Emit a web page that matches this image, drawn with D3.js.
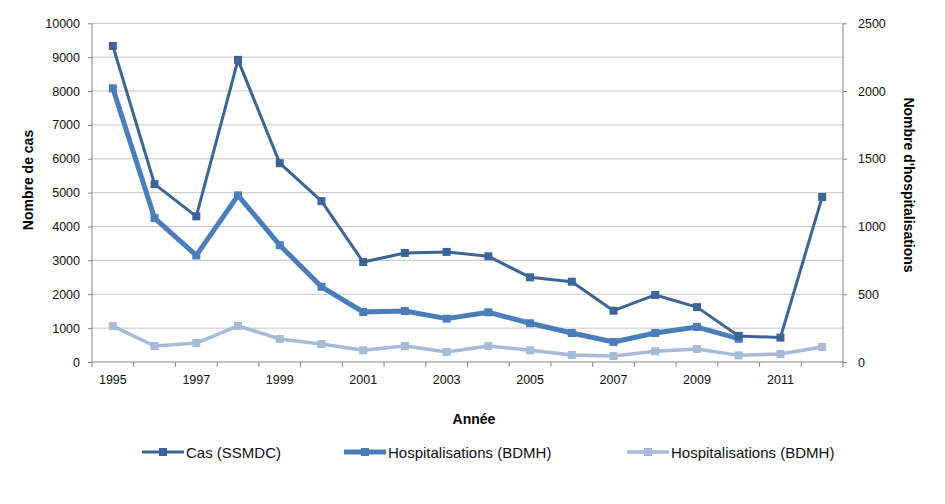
<!DOCTYPE html>
<html>
<head>
<meta charset="utf-8">
<script src="https://cdn.jsdelivr.net/npm/d3@7"></script>
<style>
  body { margin: 0; background: #fff; }
  svg { display: block; }
</style>
</head>
<body>
<div id="vis"></div>
<script>
// data
let years = [1995, 1996, 1997, 1998, 1999, 2000, 2001, 2002, 2003, 2004, 2005, 2006, 2007, 2008, 2009, 2010, 2011, 2012];
let cas = [9330, 5250, 4300, 8920, 5870, 4750, 2950, 3220, 3250, 3120, 2500, 2370, 1515, 1980, 1620, 770, 720, 4870];
let hospThick = [2020, 1062, 787, 1230, 862, 555, 369, 376, 320, 367, 286, 214, 148, 214, 258, 172, null, null];
let hospLight = [265, 118, 140, 266, 170, 133, 86, 118, 74, 118, 86, 52, 44, 79, 96, 49, 59, 111];
let leftTicks = [0, 1000, 2000, 3000, 4000, 5000, 6000, 7000, 8000, 9000, 10000];
let rightTicks = [0, 500, 1000, 1500, 2000, 2500];

let W = 945, H = 504;
let plot = { left: 92, right: 843, top: 23.3, bottom: 362 };

let svg = d3.select('#vis').append('svg')
  .attr('width', W).attr('height', H)
  .style('font-family', '"DejaVu Sans", Verdana, sans-serif');

let x = d3.scaleBand().domain(years).range([plot.left, plot.right]);
let yL = d3.scaleLinear().domain([0, 10000]).range([plot.bottom, plot.top]);
let yR = d3.scaleLinear().domain([0, 2500]).range([plot.bottom, plot.top]);
let cx = d => x(d) + x.bandwidth() / 2;

// gridlines
svg.append('g').selectAll('line').data(leftTicks.slice(1)).join('line')
  .attr('x1', plot.left).attr('x2', plot.right)
  .attr('y1', d => yL(d)).attr('y2', d => yL(d))
  .attr('stroke', '#c6c6c6').attr('stroke-width', 1);

// left axis
let gl = svg.append('g').attr('transform', `translate(${plot.left},0)`)
  .call(d3.axisLeft(yL).tickValues(leftTicks).tickSize(4).tickPadding(8).tickFormat(d3.format('d')));
gl.select('.domain').attr('stroke', '#868686').attr('d', `M0,${plot.top}V${plot.bottom}`);
gl.selectAll('.tick line').attr('stroke', '#868686');
gl.selectAll('.tick text').attr('font-size', 12.5).attr('fill', '#111');

// right axis
let gr = svg.append('g').attr('transform', `translate(${plot.right},0)`)
  .call(d3.axisRight(yR).tickValues(rightTicks).tickSize(4).tickPadding(11).tickFormat(d3.format('d')));
gr.select('.domain').attr('stroke', '#868686').attr('d', `M0,${plot.top}V${plot.bottom}`);
gr.selectAll('.tick line').attr('stroke', '#868686');
gr.selectAll('.tick text').attr('font-size', 12.5).attr('fill', '#111');

// bottom axis: ticks at band edges, labels every other year
let gb = svg.append('g').attr('transform', `translate(0,${plot.bottom})`)
  .call(d3.axisBottom(x).tickSize(0).tickPadding(13)
    .tickFormat(d => (d - 1995) % 2 === 0 ? d : ''));
gb.select('.domain').attr('stroke', '#868686').attr('d', `M${plot.left},0H${plot.right}`);
gb.selectAll('.tick text').attr('font-size', 12.5).attr('fill', '#111');
svg.append('g').selectAll('line').data(years.concat([null])).join('line')
  .attr('x1', (d, i) => plot.left + i * x.bandwidth())
  .attr('x2', (d, i) => plot.left + i * x.bandwidth())
  .attr('y1', plot.bottom).attr('y2', plot.bottom + 5)
  .attr('stroke', '#868686');

// axis titles
svg.append('text').attr('x', 474).attr('y', 424).attr('text-anchor', 'middle')
  .attr('font-size', 14).attr('font-weight', 'bold')
  .style('font-family', '"Liberation Sans", Arial, sans-serif').text('Année');
svg.append('text').attr('transform', 'translate(33,180) rotate(-90)').attr('text-anchor', 'middle')
  .attr('font-size', 14).attr('font-weight', 'bold')
  .style('font-family', '"Liberation Sans", Arial, sans-serif').text('Nombre de cas');
svg.append('text').attr('transform', 'translate(904,185) rotate(90)').attr('text-anchor', 'middle')
  .attr('font-size', 14).attr('font-weight', 'bold')
  .style('font-family', '"Liberation Sans", Arial, sans-serif').text("Nombre d'hospitalisations");

// series
let series = [
  { name: 'Cas (SSMDC)', values: cas, y: yL, color: '#3C6497', width: 3, size: 8 },
  { name: 'Hospitalisations (BDMH)', values: hospThick, y: yR, color: '#4A7EBB', width: 5, size: 8 },
  { name: 'Hospitalisations (BDMH)', values: hospLight, y: yR, color: '#A7BAD8', width: 3.5, size: 8 }
];

// draw light first, then thick, then cas on top
[2, 1, 0].forEach(k => {
  let s = series[k];
  let pts = years.map((yr, i) => ({ yr, v: s.values[i] })).filter(p => p.v != null);
  let line = d3.line().x(p => cx(p.yr)).y(p => s.y(p.v));
  svg.append('path').datum(pts)
    .attr('d', line).attr('fill', 'none')
    .attr('stroke', s.color).attr('stroke-width', s.width)
    .attr('stroke-linejoin', 'round');
  svg.append('g').selectAll('rect').data(pts).join('rect')
    .attr('x', p => cx(p.yr) - s.size / 2).attr('y', p => s.y(p.v) - s.size / 2)
    .attr('width', s.size).attr('height', s.size)
    .attr('fill', s.color);
});

// legend
let legX = [142, 344, 627];
let leg = svg.append('g').selectAll('g').data(series).join('g')
  .attr('transform', (d, i) => `translate(${legX[i]},452)`);
leg.append('line').attr('x1', 0).attr('x2', 42).attr('y1', 0).attr('y2', 0)
  .attr('stroke', d => d.color).attr('stroke-width', d => d.width);
leg.append('rect').attr('x', 17).attr('y', -4).attr('width', 8).attr('height', 8)
  .attr('fill', d => d.color);
leg.append('text').attr('x', 44).attr('y', 5.5)
  .attr('font-size', 15).attr('fill', '#111')
  .style('font-family', '"Liberation Sans Narrow", "Arial Narrow", sans-serif')
  .text(d => d.name);
</script>
</body>
</html>
